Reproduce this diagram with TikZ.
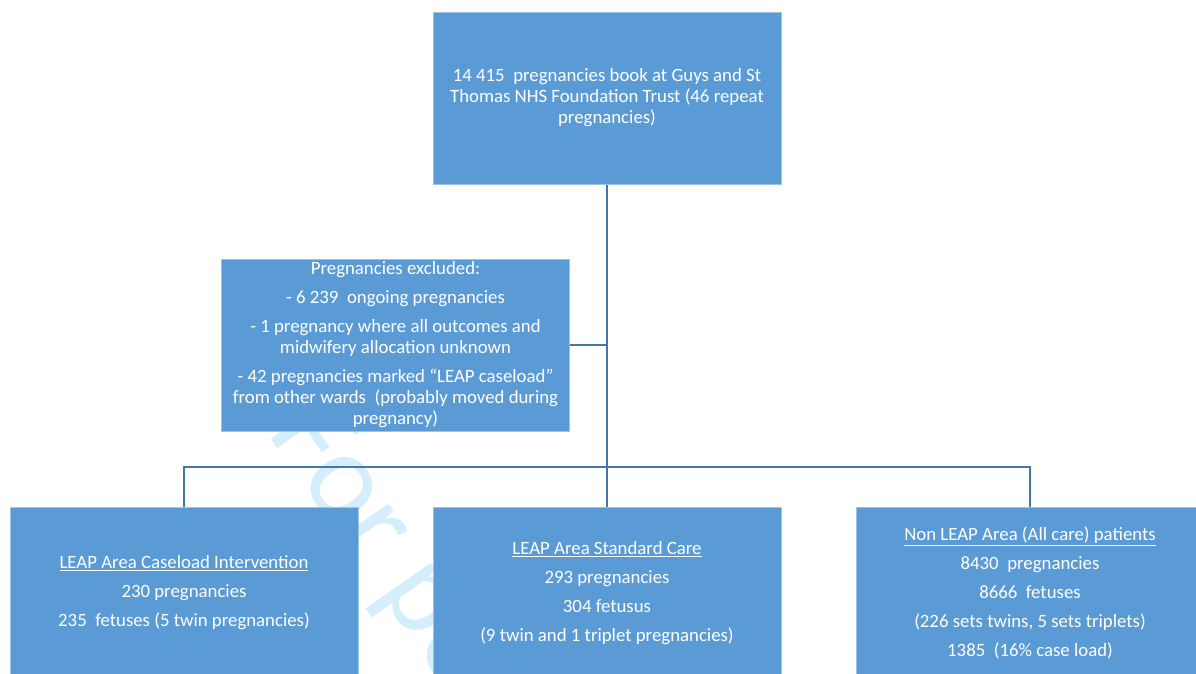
\documentclass[tikz,border=0pt]{standalone}
\usepackage{fontspec}
\setmainfont{Carlito}
\definecolor{boxfill}{HTML}{5B9BD5}
\definecolor{boxedge}{HTML}{9CC2E5}
\definecolor{conncol}{HTML}{4675AA}
\definecolor{wmark}{RGB}{212,238,251}
\begin{document}
\begin{tikzpicture}[x=1pt,y=-1pt,
  box/.style={draw=boxedge, line width=1pt, fill=boxfill, minimum width=348pt,
    minimum height=172pt, inner sep=0pt, text=white, align=center,
    font=\fontsize{18.8}{21}\selectfont},
  conn/.style={draw=conncol, line width=2.8pt},
  watermark/.style={text=wmark, inner sep=0pt, anchor=base west, rotate=-55,
    font=\fontsize{125}{130}\selectfont}]
\useasboundingbox (0,0) rectangle (1196,673);
\clip (0,0) rectangle (1196,673);
\node[watermark] (wm) at (266,432) {For peer};

\node[box] (top) at (607,98) {14 415~ pregnancies book at Guys and St\\Thomas NHS Foundation Trust (46 repeat\\pregnancies)};
\node[box] (excl) at (395.5,345) {Pregnancies excluded:\\[8pt]
- 6 239~ ongoing pregnancies\\[8pt]
- 1 pregnancy where all outcomes and\\midwifery allocation unknown\\[8pt]
- 42 pregnancies marked “LEAP caseload”\\from other wards~ (probably moved during\\pregnancy)};
\node[box] (left) at (184,593) {\underline{LEAP Area Caseload Intervention}\\[8pt]
230 pregnancies\\[8pt]
235~ fetuses (5 twin pregnancies)};
\node[box] (mid) at (607,593) {\underline{LEAP Area Standard Care}\\[8pt]
293 pregnancies\\[8pt]
304 fetusus\\[8pt]
(9 twin and 1 triplet pregnancies)};
\node[box] (right) at (1030,593) {\underline{Non LEAP Area (All care) patients}\\[8pt]
8430~ pregnancies\\[8pt]
8666~ fetuses\\[8pt]
(226 sets twins, 5 sets triplets)\\[8pt]
1385~ (16\% case load)};

\coordinate (bar) at (607,467);
\draw[conn] (top.south) -- (mid.north);
\draw[conn] (excl.east) -- (excl.east -| top.south);
\draw[conn] (left.north) |- (bar) -| (right.north);
\end{tikzpicture}
\end{document}
